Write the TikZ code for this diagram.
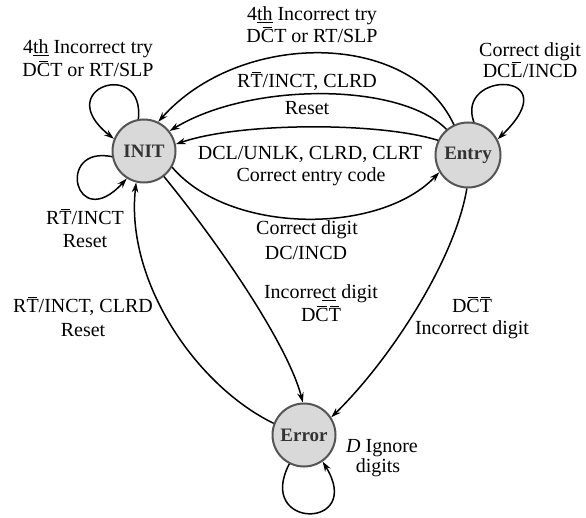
\documentclass[tikz,border=0pt]{standalone}
\usepackage{fontspec}
\setmainfont{Liberation Serif}
\usetikzlibrary{arrows.meta}
\newlength{\ovlw}
\newcommand{\ovl}[1]{\settowidth{\ovlw}{#1}\rlap{\hbox to \ovlw{\hss\rule[0.76em]{0.72\ovlw}{0.055em}\hss}}#1}
\definecolor{stfill}{HTML}{D9D9D9}
\definecolor{stdraw}{HTML}{555555}
\definecolor{sttext}{HTML}{333333}
\begin{document}
\begin{tikzpicture}[x=1pt,y=-1pt,
  state/.style={circle, draw=stdraw, line width=2pt, fill=stfill, minimum size=63pt, inner sep=0pt,
    font=\fontsize{19}{22}\selectfont\bfseries, text=sttext},
  lbl/.style={anchor=base, font=\fontsize{20}{22.5}\selectfont, inner sep=0pt},
  edge/.style={line width=1.5pt, -{Stealth[length=10pt,width=6.5pt]}},
]
\useasboundingbox (0,0) rectangle (586,518);
\node[state] (init) at (144,151) {INIT};
\node[state, minimum size=65pt] (entry) at (468,155) {Entry};
\node[state] (error) at (304,435) {Error};

% transitions
\draw[edge] (entry.115) .. controls (410,30) and (240,30) .. (init.64);
\draw[edge] (entry.130) .. controls (400,82) and (250,82) .. (init.38);
\draw[edge] (entry.154) .. controls (380,122) and (240,122) .. (init.12);
\draw[edge] (init.-30) .. controls (230,235) and (380,235) .. (entry.211);
\draw[edge] (init.-52) .. controls (220,245) and (288,345) .. (error.92);
\draw[edge] (entry.-92) .. controls (455,260) and (390,360) .. (error.33);
\draw[edge] (error.159) .. controls (195,385) and (125,280) .. (init.256);
% self loops
\draw[edge] (init.100) .. controls (145,58) and (50,88) .. (init.158);
\draw[edge] (init.190) .. controls (55,145) and (75,235) .. (init.238);
\draw[edge] (entry.80) .. controls (455,70) and (570,70) .. (entry.28);
\draw[edge] (error.243) .. controls (255,530) and (365,530) .. (error.305);

% labels
\node[lbl] (la1) at (88,54) {4\underline{th} Incorrect try};
\node[lbl] (la2) at (88,77) {D\ovl{C}T or RT/SLP};
\node[lbl] (lb1) at (312,21) {4\underline{th} Incorrect try};
\node[lbl] (lb2) at (312,43) {D\ovl{C}T or RT/SLP};
\node[lbl] (lc1) at (307,88) {R\ovl{T}/INCT, CLRD};
\node[lbl] (lc2) at (307,115) {Reset};
\node[lbl] (ld1) at (310,160) {DCL/UNLK, CLRD, CLRT};
\node[lbl] (ld2) at (311,182) {Correct entry code};
\node[lbl] (le1) at (307,235) {Correct digit};
\node[lbl] (le2) at (306,260) {DC/INCD};
\node[lbl] (lf1) at (321,299) {Incorre\underline{ct} digit};
\node[lbl] (lf2) at (321,322) {D\ovl{C}\ovl{T}};
\node[lbl] (lg1) at (472,313) {D\ovl{C}\ovl{T}};
\node[lbl] (lg2) at (472,335) {Incorrect digit};
\node[lbl] (lh1) at (83,313) {R\ovl{T}/INCT, CLRD};
\node[lbl] (lh2) at (83,337) {Reset};
\node[lbl] (li1) at (85,225) {R\ovl{T}/INCT};
\node[lbl] (li2) at (85,248) {Reset};
\node[lbl] (lj1) at (530,57) {Correct digit};
\node[lbl] (lj2) at (530,78) {DC\ovl{L}/INCD};
\node[lbl] (lk1) at (382,452) {\textit{D} Ignore};
\node[lbl] (lk2) at (378,472) {digits};
\end{tikzpicture}
\end{document}
